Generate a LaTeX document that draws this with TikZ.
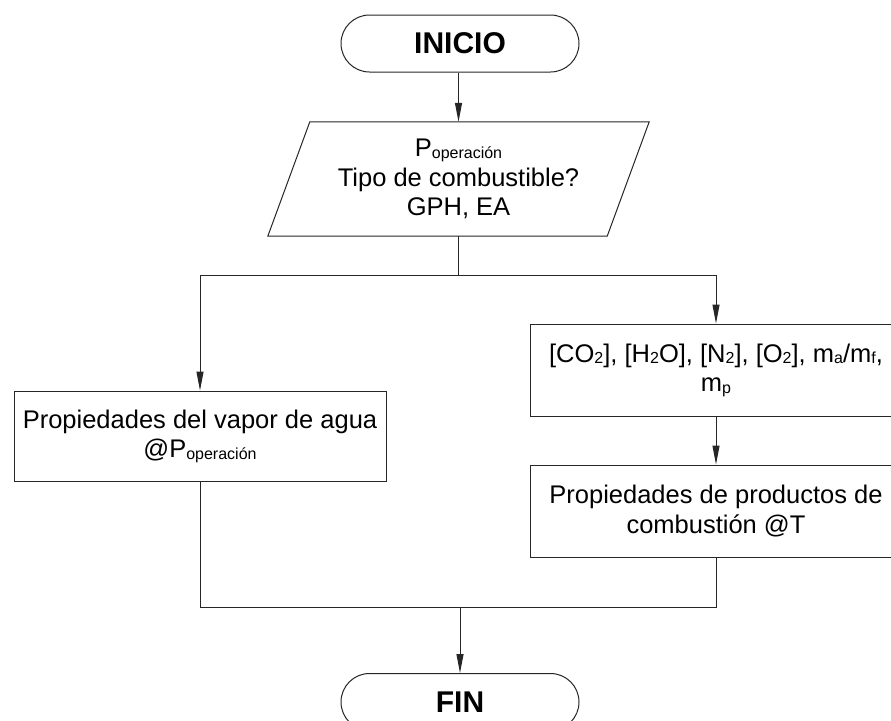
\documentclass[tikz,border=0pt]{standalone}
\usepackage{fontspec}
\setmainfont{Liberation Sans}
\usetikzlibrary{arrows.meta,shapes.misc,calc}

% small lowered text for indices such as CO2 or P operación
\newcommand{\idx}[1]{\raisebox{-1.5pt}{\fontsize{16}{16}\selectfont #1}}

\tikzset{
  line/.style={draw=black!85, line width=1pt},
  arr/.style={line, -{Triangle[length=19pt,width=7pt]}},
  body/.style={font=\fontsize{25.5}{29.5}\selectfont, align=center},
  terminal/.style={line, rounded rectangle, minimum width=238pt, minimum height=57pt,
    inner sep=0pt, font=\fontsize{30}{30}\selectfont\bfseries},
  procbox/.style={line, rectangle, body, minimum width=372pt, minimum height=92pt, inner sep=0pt},
  iobox/.style={body, rectangle, minimum width=339pt, minimum height=114pt, inner sep=0pt}
}

\begin{document}
\begin{tikzpicture}[x=1pt,y=-1pt]
  \useasboundingbox (0,0) rectangle (891,720);
  \clip (0,0) rectangle (891,720);
  \fill[white] (0,0) rectangle (891,720);

  % start and end terminals
  \node[terminal] (start) at (460,43.5) {INICIO};
  \node[terminal] (fin) at (460,702) {FIN};

  % input data (parallelogram drawn around a plain node)
  \node[iobox] (io) at (458.5,179)
    {P\idx{operación}\\Tipo de combustible?\\GPH, EA};
  \draw[line] ($(io.north west)+(21,0)$) -- ($(io.north east)+(21,0)$)
    -- ($(io.south east)+(-21,0)$) -- ($(io.south west)+(-21,0)$) -- cycle;

  % process boxes
  \node[procbox, minimum height=90pt] (vapor) at (200,436)
    {Propiedades del vapor de agua\\@P\idx{operación}};
  \node[procbox] (gases) at (716,370)
    {[CO\idx{2}], [H\idx{2}O], [N\idx{2}], [O\idx{2}], m\idx{a}/m\idx{f},\\m\idx{p}};
  \node[procbox] (prod) at (716,511)
    {Propiedades de productos de\\combustión @T};

  % branch and merge points
  \coordinate (bl) at (200,275);
  \coordinate (br) at (716,275);
  \coordinate (ml) at (200,607);
  \coordinate (mr) at (716,607);

  % connectors
  \draw[arr] (start.south -| io.north) -- (io.north);
  \draw[line] (io.south) -- (io.south |- bl);
  \draw[line] (bl) -- (br);
  \draw[arr] (bl) -- (vapor.north);
  \draw[arr] (br) -- (gases.north);
  \draw[arr] (gases.south) -- (prod.north);
  \draw[line] (vapor.south) -- (ml) -- (mr) -- (prod.south);
  \draw[arr] (ml -| fin.north) -- (fin.north);
\end{tikzpicture}
\end{document}
